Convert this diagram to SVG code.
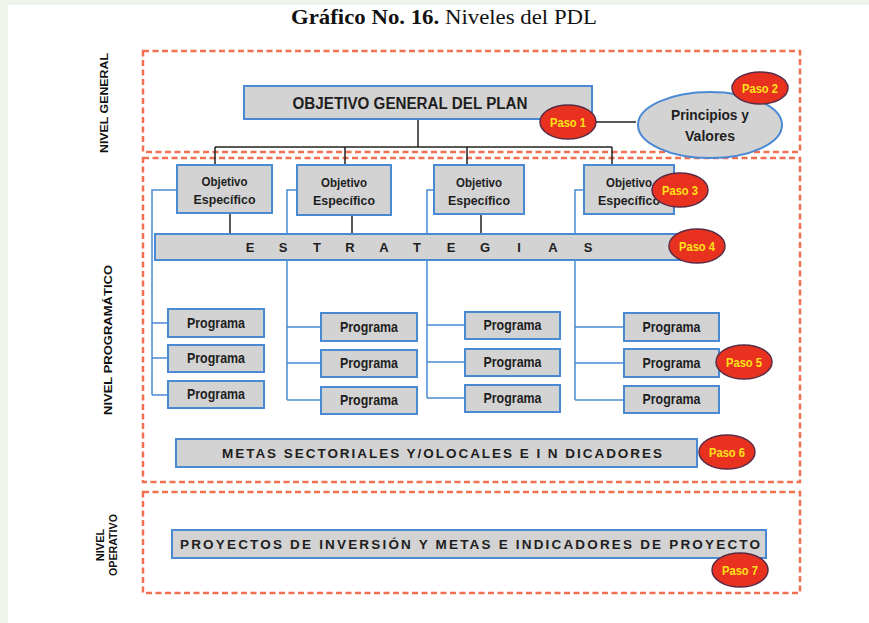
<svg xmlns="http://www.w3.org/2000/svg" width="869" height="623" viewBox="0 0 869 623">
<defs>
<style>
.bg{fill:#eef4ea}
.dash{fill:none;stroke:#f0704f;stroke-width:2.5;stroke-dasharray:6 3.5}
.box{fill:#d3d3d3;stroke:#4a8ad4;stroke-width:2}
.t{font-family:"Liberation Sans Narrow","Liberation Sans",Arial,sans-serif;font-weight:bold;fill:#1e1e1e;text-anchor:middle}
.lvl{font-family:"Liberation Sans Narrow","Liberation Sans",Arial,sans-serif;font-weight:bold;font-size:11px;fill:#111;text-anchor:middle}
.paso{fill:#e8321f;stroke:#5b2b45;stroke-width:1.5}
.pt{font-family:"Liberation Sans Narrow","Liberation Sans",Arial,sans-serif;font-weight:bold;font-size:13px;fill:#ffe21a;text-anchor:middle}
.blk{fill:none;stroke:#222;stroke-width:1.5}
.blu{fill:none;stroke:#4a8ad4;stroke-width:1.5}
</style>
</defs>
<rect x="0" y="0" width="869" height="623" fill="#ffffff"/>
<rect class="bg" x="0" y="0" width="869" height="5"/>
<rect class="bg" x="0" y="0" width="8" height="623"/>
<text x="444" y="24" text-anchor="middle" font-family="Liberation Serif,serif" font-size="21" fill="#111" textLength="306" lengthAdjust="spacingAndGlyphs"><tspan font-weight="bold">Gráfico No. 16.</tspan> Niveles del PDL</text>

<g id="levels">
<rect class="dash" x="143" y="51" width="657" height="101"/>
<rect class="dash" x="143" y="158" width="657" height="324"/>
<rect class="dash" x="143" y="492" width="657" height="101"/>
<text class="lvl" transform="translate(108,103) rotate(-90)" textLength="100" lengthAdjust="spacingAndGlyphs">NIVEL GENERAL</text>
<text class="lvl" transform="translate(112,340) rotate(-90)" textLength="150" lengthAdjust="spacingAndGlyphs">NIVEL PROGRAMÁTICO</text>
<text class="lvl" transform="translate(104,545) rotate(-90)">NIVEL</text>
<text class="lvl" transform="translate(117,545) rotate(-90)" textLength="62" lengthAdjust="spacingAndGlyphs">OPERATIVO</text>
</g>

<g id="connectors">
<path class="blk" d="M418 119V147M215 147H612M215 147V165M345 147V165M467 147V165M612 147V165"/>
<path class="blk" d="M596 122H636"/>
<path class="blk" d="M230 213V234M352 215V234M481 214V234"/>
<path class="blu" d="M177 190H152V395M152 323H168M152 358H168M152 395H168"/>
<path class="blu" d="M297 190H287V400M287 327H321M287 363H321M287 400H321"/>
<path class="blu" d="M434 190H427V398M427 325H465M427 362H465M427 398H465"/>
<path class="blu" d="M584 190H575V400M575 327H624M575 363H624M575 400H624"/>
</g>

<g id="objetivo-general">
<rect class="box" x="244" y="86" width="348" height="33"/>
<text class="t" x="410" y="109" font-size="16" textLength="235" lengthAdjust="spacingAndGlyphs">OBJETIVO GENERAL DEL PLAN</text>
</g>

<g id="principios">
<ellipse cx="710" cy="125" rx="72" ry="33" fill="#d3d3d3" stroke="#4a8ad4" stroke-width="2"/>
<text class="t" x="710" y="120" font-size="15" textLength="78" lengthAdjust="spacingAndGlyphs">Principios y</text>
<text class="t" x="710" y="141" font-size="15" textLength="50" lengthAdjust="spacingAndGlyphs">Valores</text>
</g>

<g id="oe1"><rect class="box" x="177" y="165" width="95" height="48"/><text class="t" x="224.5" y="186" font-size="13" textLength="46" lengthAdjust="spacingAndGlyphs">Objetivo</text><text class="t" x="224.5" y="204" font-size="13" textLength="62" lengthAdjust="spacingAndGlyphs">Específico</text></g>
<g id="oe2"><rect class="box" x="297" y="165" width="94" height="50"/><text class="t" x="344" y="187" font-size="13" textLength="46" lengthAdjust="spacingAndGlyphs">Objetivo</text><text class="t" x="344" y="205" font-size="13" textLength="62" lengthAdjust="spacingAndGlyphs">Específico</text></g>
<g id="oe3"><rect class="box" x="434" y="165" width="90" height="49"/><text class="t" x="479" y="187" font-size="13" textLength="46" lengthAdjust="spacingAndGlyphs">Objetivo</text><text class="t" x="479" y="205" font-size="13" textLength="62" lengthAdjust="spacingAndGlyphs">Específico</text></g>
<g id="oe4"><rect class="box" x="584" y="165" width="90" height="49"/><text class="t" x="629" y="187" font-size="13" textLength="46" lengthAdjust="spacingAndGlyphs">Objetivo</text><text class="t" x="629" y="205" font-size="13" textLength="62" lengthAdjust="spacingAndGlyphs">Específico</text></g>

<g id="estrategias">
<rect class="box" x="155" y="234" width="525" height="26"/>
<text class="t" y="252" font-size="13"><tspan x="250">E</tspan><tspan x="283">S</tspan><tspan x="317">T</tspan><tspan x="350">R</tspan><tspan x="384">A</tspan><tspan x="417">T</tspan><tspan x="451">E</tspan><tspan x="485">G</tspan><tspan x="519">I</tspan><tspan x="553">A</tspan><tspan x="588">S</tspan></text>
</g>

<g id="programas-1">
<rect class="box" x="168" y="309" width="96" height="28"/><text class="t" x="216" y="328" font-size="14" textLength="58" lengthAdjust="spacingAndGlyphs">Programa</text>
<rect class="box" x="168" y="345" width="96" height="27"/><text class="t" x="216" y="363" font-size="14" textLength="58" lengthAdjust="spacingAndGlyphs">Programa</text>
<rect class="box" x="168" y="381" width="96" height="27"/><text class="t" x="216" y="399" font-size="14" textLength="58" lengthAdjust="spacingAndGlyphs">Programa</text>
</g>
<g id="programas-2">
<rect class="box" x="321" y="313" width="96" height="28"/><text class="t" x="369" y="332" font-size="14" textLength="58" lengthAdjust="spacingAndGlyphs">Programa</text>
<rect class="box" x="321" y="350" width="96" height="27"/><text class="t" x="369" y="368" font-size="14" textLength="58" lengthAdjust="spacingAndGlyphs">Programa</text>
<rect class="box" x="321" y="387" width="96" height="27"/><text class="t" x="369" y="405" font-size="14" textLength="58" lengthAdjust="spacingAndGlyphs">Programa</text>
</g>
<g id="programas-3">
<rect class="box" x="465" y="312" width="95" height="27"/><text class="t" x="512.5" y="330" font-size="14" textLength="58" lengthAdjust="spacingAndGlyphs">Programa</text>
<rect class="box" x="465" y="349" width="95" height="27"/><text class="t" x="512.5" y="367" font-size="14" textLength="58" lengthAdjust="spacingAndGlyphs">Programa</text>
<rect class="box" x="465" y="385" width="95" height="27"/><text class="t" x="512.5" y="403" font-size="14" textLength="58" lengthAdjust="spacingAndGlyphs">Programa</text>
</g>
<g id="programas-4">
<rect class="box" x="624" y="313" width="95" height="28"/><text class="t" x="671.5" y="332" font-size="14" textLength="58" lengthAdjust="spacingAndGlyphs">Programa</text>
<rect class="box" x="624" y="349" width="95" height="28"/><text class="t" x="671.5" y="368" font-size="14" textLength="58" lengthAdjust="spacingAndGlyphs">Programa</text>
<rect class="box" x="624" y="386" width="95" height="27"/><text class="t" x="671.5" y="404" font-size="14" textLength="58" lengthAdjust="spacingAndGlyphs">Programa</text>
</g>

<g id="metas">
<rect class="box" x="176" y="439" width="521" height="28"/>
<text class="t" x="442" y="458" font-size="13.5" textLength="440" lengthAdjust="spacing">METAS SECTORIALES Y/OLOCALES E  I N DICADORES</text>
</g>

<g id="proyectos">
<rect class="box" x="172" y="530" width="594" height="28"/>
<text class="t" x="470" y="549" font-size="13.5" textLength="580" lengthAdjust="spacing">PROYECTOS DE INVERSIÓN Y  METAS E INDICADORES DE PROYECTO</text>
</g>

<g id="paso1"><ellipse class="paso" cx="568" cy="122" rx="28" ry="17"/><text class="pt" x="568" y="127" textLength="36" lengthAdjust="spacingAndGlyphs">Paso 1</text></g>
<g id="paso2"><ellipse class="paso" cx="760" cy="88" rx="28" ry="16"/><text class="pt" x="760" y="93" textLength="36" lengthAdjust="spacingAndGlyphs">Paso 2</text></g>
<g id="paso3"><ellipse class="paso" cx="680" cy="190" rx="28" ry="17"/><text class="pt" x="680" y="195" textLength="36" lengthAdjust="spacingAndGlyphs">Paso 3</text></g>
<g id="paso4"><ellipse class="paso" cx="697" cy="246" rx="28" ry="17"/><text class="pt" x="697" y="251" textLength="36" lengthAdjust="spacingAndGlyphs">Paso 4</text></g>
<g id="paso5"><ellipse class="paso" cx="744" cy="362" rx="28" ry="17"/><text class="pt" x="744" y="367" textLength="36" lengthAdjust="spacingAndGlyphs">Paso 5</text></g>
<g id="paso6"><ellipse class="paso" cx="727" cy="452" rx="28" ry="17"/><text class="pt" x="727" y="457" textLength="36" lengthAdjust="spacingAndGlyphs">Paso 6</text></g>
<g id="paso7"><ellipse class="paso" cx="740" cy="570" rx="28" ry="17"/><text class="pt" x="740" y="575" textLength="36" lengthAdjust="spacingAndGlyphs">Paso 7</text></g>
</svg>
